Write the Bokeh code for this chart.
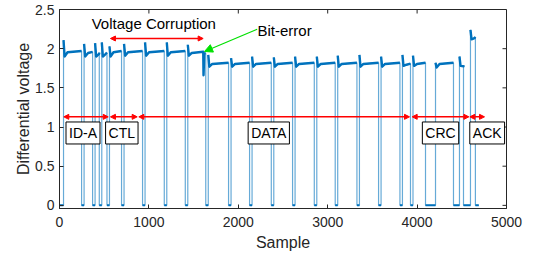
from bokeh.plotting import figure
from bokeh.models import Range1d, Label, Arrow, NormalHead, FixedTicker
from bokeh.embed import file_html
from bokeh.resources import INLINE

# ---- data -------------------------------------------------------------
# high (dominant) segments of the differential CAN signal, in samples
seg_start = [45, 275, 398, 473, 559, 722, 957, 1200, 1435, 1664, 1919, 2154, 2397,
             2635, 2878, 3112, 3355, 3597, 3836, 3954, 4206, 4474, 4597]
seg_end = [247, 370, 445, 531, 694, 929, 1172, 1407, 1636, 1891, 2126, 2369, 2607,
           2850, 3084, 3327, 3569, 3808, 3926, 4094, 4407, 4519, 4652]
seg_peak = [2.11, 2.06, 2.07, 2.08, 2.03, 2.06, 2.08, 2.08, 2.05, 1.92, 1.88, 1.90, 1.89,
            1.90, 1.90, 1.91, 1.92, 1.90, 1.92, 1.91, 1.82, 1.90, 2.24]
seg_lo = [1.90, 1.90, 1.90, 1.90, 1.90, 1.91, 1.91, 1.91, 1.91, 1.77, 1.77, 1.77, 1.77,
          1.77, 1.77, 1.77, 1.77, 1.77, 1.78, 1.78, 1.76, 1.78, 2.12]
seg_hi = [1.97, 1.96, 1.95, 1.95, 1.97, 1.97, 1.97, 1.97, 1.96, 1.82, 1.82, 1.82, 1.82,
          1.82, 1.82, 1.82, 1.82, 1.82, 1.81, 1.82, 1.82, 1.79, 2.15]
sig_first = 0
sig_last = 4690
bit_error_seg = 8
bit_error_x = 1611
bit_error_y = 1.66

x_ticks = [0, 1000, 2000, 3000, 4000, 5000]
y_ticks = [0, 0.5, 1, 1.5, 2, 2.5]
y_tick_labels = ["0", "0.5", "1", "1.5", "2", "2.5"]
x_min, x_max = 0, 5000
y_min, y_max = -0.04, 2.5

field_names = ["ID-A", "CTL", "DATA", "CRC", "ACK"]
field_from = [48, 570, 887, 3945, 4590]
field_to = [545, 869, 3915, 4579, 4754]
field_label_x = [263, 697, 2341, 4262, 4784]
field_arrow_y = 1.13
field_label_y = 0.924

corr_from = 570
corr_to = 1607
corr_y = 2.13
corr_text = "Voltage Corruption"
corr_text_x = 1055
corr_text_y = 2.316

err_text = "Bit-error"
err_text_x = 2215
err_text_y = 2.231
err_tail = (2211, 2.248)
err_tip = (1622, 1.964)

# ---- layout ------------------------------------------------------------
W, H = 527, 255
ML, MR, MT, MB = 51, 29, 9, 47
frame_w = W - ML - MR
frame_h = H - MT - MB
TICK = 4

# ---- build waveform from the segment table -----------------------------
wx = [sig_first]
wy = [0.0]
px, py = [], []          # plateau overlay
bx, by = [], []          # bottom overlay
prev_end = sig_first
for i in range(len(seg_start)):
    s, e = seg_start[i], seg_end[i]
    lo, hi, pk = seg_lo[i], seg_hi[i], seg_peak[i]
    bx.append([prev_end, s]); by.append([0.0, 0.0])
    knee = min(s + 45, e)
    if i == bit_error_seg:
        ox = [s, s + 12, knee, bit_error_x - 3, bit_error_x, bit_error_x + 8, e]
        oy = [pk, lo, hi - 0.015, hi, bit_error_y, hi - 0.02, hi - 0.02]
    else:
        ox = [s, s + 12, knee, e]
        oy = [pk, lo, hi - 0.015, hi]
    wx += [s] + ox + [e]
    wy += [0.0] + oy + [0.0]
    px.append(ox); py.append(oy)
    prev_end = e
wx.append(sig_last); wy.append(0.0)
bx.append([prev_end, sig_last]); by.append([0.0, 0.0])

FONT = "Liberation Sans"
AX = "#262626"
BLUE = "#0072BD"

p = figure(width=W, height=H, x_range=Range1d(x_min, x_max), y_range=Range1d(y_min, y_max),
           output_backend="svg", toolbar_location=None,
           min_border_left=ML, min_border_right=MR, min_border_top=MT, min_border_bottom=MB)
p.margin = (0, 0, 0, 8)
p.grid.visible = False
p.outline_line_color = AX
p.outline_line_width = 1
p.background_fill_color = "white"
p.border_fill_color = "white"

p.line(wx, wy, color=BLUE, line_width=1.2, line_alpha=0.6)
p.multi_line(px, py, color=BLUE, line_width=2.4, line_join="round")
p.multi_line(bx, by, color=BLUE, line_width=2)

for ax in (p.xaxis[0], p.yaxis[0]):
    ax.axis_line_color = AX
    ax.major_tick_line_color = AX
    ax.major_tick_in = TICK
    ax.major_tick_out = 0
    ax.minor_tick_line_color = None
    ax.major_label_text_font = FONT
    ax.major_label_text_font_size = "14px"
    ax.major_label_text_color = AX
    ax.axis_label_text_font = FONT
    ax.axis_label_text_font_size = "16px"
    ax.axis_label_text_font_style = "normal"
    ax.axis_label_text_color = AX

p.xaxis.ticker = FixedTicker(ticks=x_ticks)
p.yaxis.ticker = FixedTicker(ticks=y_ticks)
p.yaxis.major_label_overrides = {float(t): l for t, l in zip(y_ticks, y_tick_labels)}
p.xaxis.axis_label = "Sample"
p.yaxis.axis_label = "Differential voltage"
p.xaxis.major_label_standoff = 8
p.xaxis.axis_label_standoff = 4
p.yaxis.major_label_standoff = 5
p.yaxis.axis_label_standoff = 0

# mirrored inward ticks on the top and right edges of the box
tx = TICK * (x_max - x_min) / frame_w
ty = TICK * (y_max - y_min) / frame_h
p.segment(x0=x_ticks, y0=[y_max] * len(x_ticks), x1=x_ticks, y1=[y_max - ty] * len(x_ticks),
          line_color=AX, line_width=1)
p.segment(x0=[x_max] * len(y_ticks), y0=y_ticks, x1=[x_max - tx] * len(y_ticks), y1=y_ticks,
          line_color=AX, line_width=1)

RED = "#FF0000"
def red_arrow(x0, x1, y):
    p.add_layout(Arrow(x_start=x0, y_start=y, x_end=x1, y_end=y,
                       start=NormalHead(size=5, fill_color=RED, line_color=RED),
                       end=NormalHead(size=5, fill_color=RED, line_color=RED),
                       line_color=RED, line_width=1.5))

red_arrow(corr_from, corr_to, corr_y)
for a, b in zip(field_from, field_to):
    red_arrow(a, b, field_arrow_y)

GREEN = "#00E000"
p.add_layout(Arrow(x_start=err_tail[0], y_start=err_tail[1], x_end=err_tip[0], y_end=err_tip[1],
                   end=NormalHead(size=8, fill_color=GREEN, line_color=GREEN),
                   line_color=GREEN, line_width=1.2))

p.add_layout(Label(x=corr_text_x, y=corr_text_y, text=corr_text, text_align="center",
                   text_baseline="middle", text_font=FONT, text_font_size="15px",
                   text_color="black"))
p.add_layout(Label(x=err_text_x, y=err_text_y, text=err_text, text_align="left",
                   text_baseline="middle", text_font=FONT, text_font_size="15px",
                   text_color="black"))

for name, lx in zip(field_names, field_label_x):
    p.add_layout(Label(x=lx, y=field_label_y, text=name, text_align="center",
                       text_baseline="middle", text_font=FONT, text_font_size="14px",
                       text_color="black", background_fill_color="white",
                       border_line_color="black", border_line_width=1, padding=3))

open("out.html", "w").write(file_html(p, INLINE))
